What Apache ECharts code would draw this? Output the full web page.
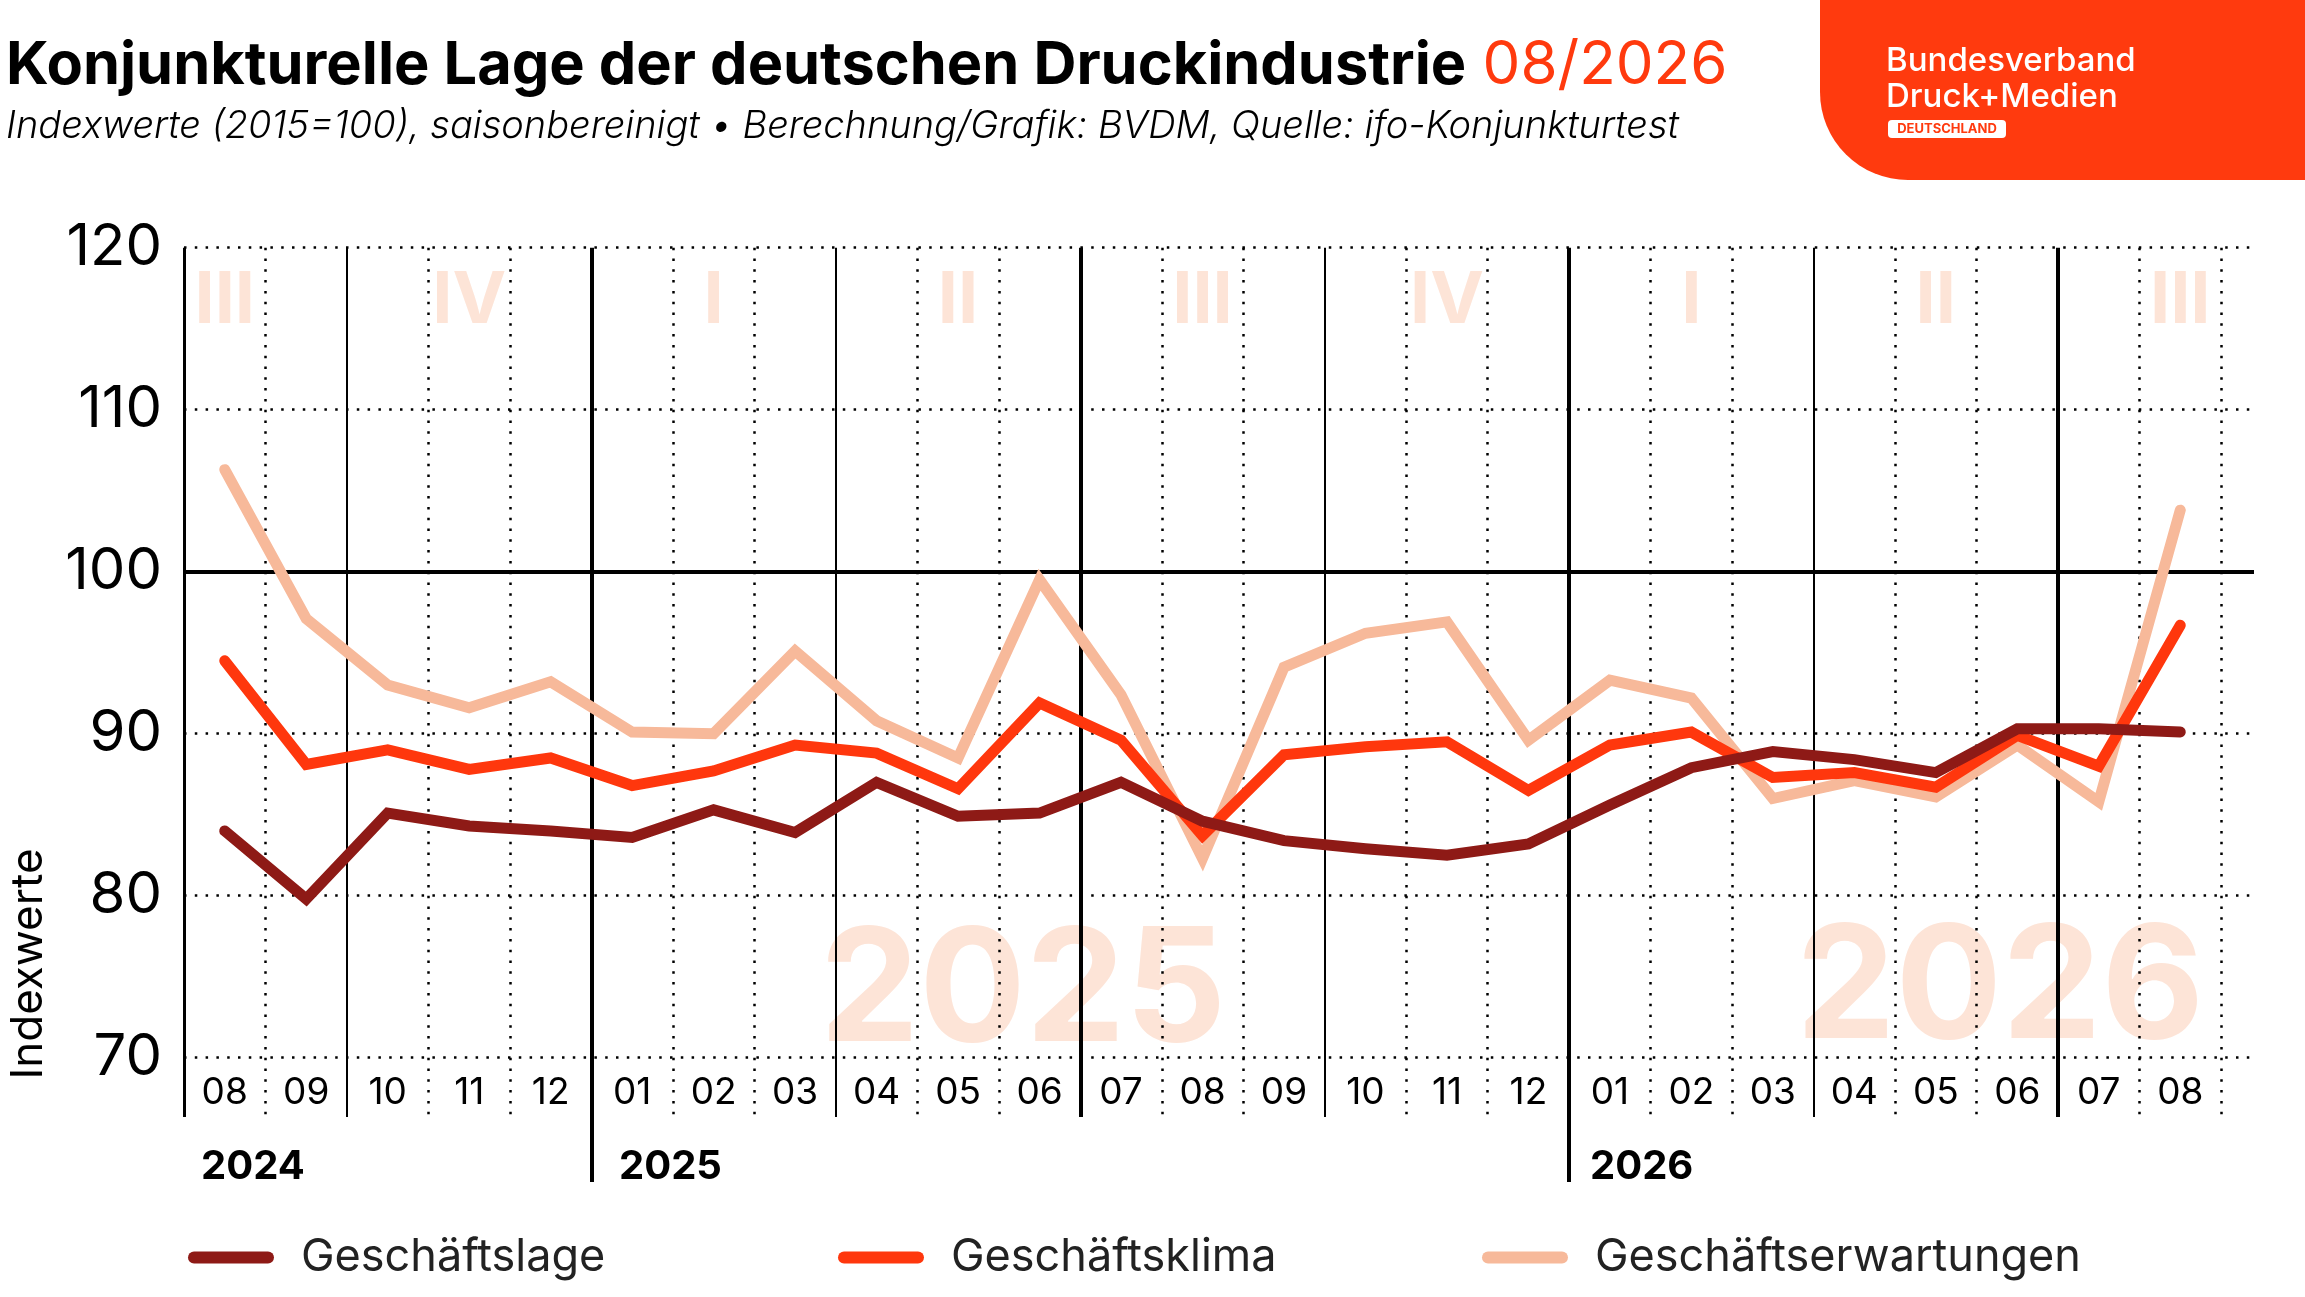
<!DOCTYPE html>
<html>
<head>
<meta charset="utf-8">
<script src="https://cdn.jsdelivr.net/npm/echarts@6/dist/echarts.min.js"></script>
<style>
html, body { margin: 0; padding: 0; background: #fff; }
#chart { width: 2305px; height: 1297px; }
</style>
</head>
<body>
<div id="chart"></div>
<script>
// Monate 08/2024 - 08/2026
var months = ['08','09','10','11','12','01','02','03','04','05','06','07','08','09','10','11','12','01','02','03','04','05','06','07','08'];
var lage        = [84.0, 79.8, 85.1, 84.3, 84.0, 83.6, 85.3, 83.9, 87.0, 84.9, 85.1, 87.0, 84.6, 83.4, 82.9, 82.5, 83.2, 85.6, 87.9, 88.9, 88.4, 87.6, 90.3, 90.3, 90.1];
var klima       = [94.5, 88.1, 89.0, 87.8, 88.5, 86.8, 87.7, 89.3, 88.8, 86.6, 91.9, 89.6, 83.7, 88.7, 89.2, 89.5, 86.5, 89.3, 90.1, 87.3, 87.6, 86.7, 89.9, 88.0, 96.7];
var erwartungen = [106.3, 97.1, 93.0, 91.6, 93.2, 90.1, 90.0, 95.1, 90.8, 88.5, 99.5, 92.4, 82.3, 94.1, 96.2, 96.9, 89.6, 93.3, 92.2, 86.0, 87.1, 86.1, 89.3, 85.8, 103.8];
var yTicks = [70, 80, 90, 100, 110, 120];
var quarterLabels = ['III','IV','I','II','III','IV','I','II','III'];
var quarterMid = [0, 3, 6, 9, 12, 15, 18, 21, 24];
var yearLabels = ['2024', '2025', '2026'];

var FONT = 'Inter';
var GRID_RIGHT_PX = 2254;   // horizontale Linien laufen etwas weiter
var AXIS_BOTTOM_PX = 1117;  // Ende der senkrechten Linien
var YEAR_BOTTOM_PX = 1182;  // Ende der Jahreslinien
var dotted = [2.5, 8.3];

function pairs(arr) {
    return arr.map(function (v, i) { return [i, v]; });
}

// horizontale Linien
var gridLines = yTicks.map(function (v) {
    var style = v === 100
        ? { color: '#000', width: 4, type: 'solid' }
        : { color: '#000', width: 2.5, type: dotted };
    return [{ xAxis: -0.5, yAxis: v, lineStyle: style }, { x: GRID_RIGHT_PX, yAxis: v }];
});

// senkrechte Linien an den Monatsgrenzen
gridLines.push([{ xAxis: -0.5, yAxis: 120, lineStyle: { color: '#000', width: 3, type: 'solid' } },
                { xAxis: -0.5, y: AXIS_BOTTOM_PX }]);
for (var k = 0; k < months.length; k++) {
    var next = k + 1 < months.length ? +months[k + 1] : (+months[k] % 12) + 1;
    var style, bottom = AXIS_BOTTOM_PX;
    if (next === 1) {
        style = { color: '#000', width: 4, type: 'solid' };
        bottom = YEAR_BOTTOM_PX;
    } else if (next === 7) {
        style = { color: '#000', width: 4, type: 'solid' };
    } else if (next === 4 || next === 10) {
        style = { color: '#000', width: 2, type: 'solid' };
    } else {
        style = { color: '#000', width: 2.5, type: dotted };
    }
    gridLines.push([{ xAxis: k + 0.5, yAxis: 120, lineStyle: style }, { xAxis: k + 0.5, y: bottom }]);
}

var quarterPoints = quarterLabels.map(function (q, i) {
    return { name: q, coord: [quarterMid[i], 116.7] };
});

var chart = echarts.init(document.getElementById('chart'));

var option = {
    backgroundColor: '#fff',
    animation: false,
    textStyle: { fontFamily: FONT },
    grid: {
        left: 184, right: 84, top: 247.7, bottom: 239.3,
        containLabel: false, outerBoundsMode: 'none'
    },
    xAxis: {
        type: 'value',
        min: -0.5, max: 24.5, interval: 0.5,
        axisLine: { show: false },
        axisTick: { show: false },
        splitLine: { show: false },
        axisLabel: {
            margin: 17,
            fontFamily: FONT, fontSize: 37, color: '#000',
            formatter: function (v) {
                return Number.isInteger(v) ? months[v] : '';
            }
        }
    },
    yAxis: {
        type: 'value',
        min: 70, max: 120, interval: 10,
        axisLine: { show: false },
        axisTick: { show: false },
        splitLine: { show: false },
        axisLabel: { margin: 22, fontFamily: FONT, fontSize: 58, color: '#000' }
    },
    legend: [
        { data: ['Geschäftslage'], left: 183 },
        { data: ['Geschäftsklima'], left: 833 },
        { data: ['Geschäftserwartungen'], left: 1477 }
    ].map(function (l) {
        l.top = 1230;
        l.itemWidth = 86;
        l.itemHeight = 12;
        l.icon = 'path://M6 0H80A6 6 0 0 1 80 12H6A6 6 0 0 1 6 0Z';
        l.textStyle = { fontFamily: FONT, fontSize: 45, color: '#222', padding: [0, 0, 0, 22] };
        l.selectedMode = false;
        return l;
    }),
    graphic: [
        {
            type: 'text', x: 6, y: 66,
            style: {
                text: '{a|Konjunkturelle Lage der deutschen Druckindustrie} {b|08/2026}',
                textVerticalAlign: 'middle',
                rich: {
                    a: { fontFamily: FONT, fontSize: 59.5, fontWeight: 'bold', fill: '#000' },
                    b: { fontFamily: FONT, fontSize: 60, fontWeight: 'normal', fill: '#FF3A0E' }
                },
                font: '58px ' + FONT
            }
        },
        {
            type: 'text', x: 6, y: 127,
            style: {
                text: 'Indexwerte (2015=100), saisonbereinigt • Berechnung/Grafik: BVDM, Quelle: ifo-Konjunkturtest',
                font: 'italic 300 38px ' + FONT, fill: '#000', textVerticalAlign: 'middle'
            }
        },
        {
            type: 'rect',
            shape: { x: 1820, y: 0, width: 485, height: 180, r: [0, 0, 0, 88] },
            style: { fill: '#FF3A0E' }
        },
        {
            type: 'text', x: 1886, y: 61,
            style: { text: 'Bundesverband', font: '500 33px ' + FONT, fill: '#fff', textVerticalAlign: 'middle' }
        },
        {
            type: 'text', x: 1886, y: 97,
            style: { text: 'Druck+Medien', font: '500 33px ' + FONT, fill: '#fff', textVerticalAlign: 'middle' }
        },
        {
            type: 'rect',
            shape: { x: 1888, y: 120, width: 118, height: 18, r: 4 },
            style: { fill: '#fff' }
        },
        {
            type: 'text', x: 1947, y: 129.5,
            style: { text: 'DEUTSCHLAND', font: 'bold 13px ' + FONT, fill: '#FF3A0E', textAlign: 'center', textVerticalAlign: 'middle' }
        },
        {
            type: 'text', x: 29, y: 964, rotation: Math.PI / 2,
            style: { text: 'Indexwerte', font: '44px ' + FONT, fill: '#000', textAlign: 'center', textVerticalAlign: 'middle' }
        },
        {
            type: 'text', x: 201, y: 1167,
            style: { text: yearLabels[0], font: 'bold 40px ' + FONT, fill: '#000', textVerticalAlign: 'middle' }
        },
        {
            type: 'text', x: 619, y: 1167,
            style: { text: yearLabels[1], font: 'bold 40px ' + FONT, fill: '#000', textVerticalAlign: 'middle' }
        },
        {
            type: 'text', x: 1590, y: 1167,
            style: { text: yearLabels[2], font: 'bold 40px ' + FONT, fill: '#000', textVerticalAlign: 'middle' }
        },
        {
            type: 'text', x: 1023, y: 993, z: 0,
            style: { text: '2025', font: 'bold 158px ' + FONT, fill: '#FDE4D7', textAlign: 'center', textVerticalAlign: 'middle' }
        },
        {
            type: 'text', x: 2000, y: 990, z: 0,
            style: { text: '2026', font: 'bold 158px ' + FONT, fill: '#FDE4D7', textAlign: 'center', textVerticalAlign: 'middle' }
        }
    ],
    series: [
        {
            type: 'line',
            name: 'helper',
            data: [],
            clip: false,
            silent: true,
            markLine: {
                z: 2,
                silent: true,
                symbol: ['none', 'none'],
                label: { show: false },
                emphasis: { disabled: true },
                data: gridLines
            },
            markPoint: {
                z: 1,
                silent: true,
                symbol: 'circle',
                symbolSize: 1,
                itemStyle: { color: 'rgba(0,0,0,0)' },
                label: {
                    show: true, position: 'inside', formatter: '{b}',
                    fontFamily: FONT, fontSize: 72, fontWeight: 'bold', color: '#FDE4D7'
                },
                data: quarterPoints
            }
        },
        {
            type: 'line', name: 'Geschäftserwartungen', z: 10,
            data: pairs(erwartungen), symbol: 'none', silent: true,
            itemStyle: { color: '#F7B99A' },
            lineStyle: { color: '#F7B99A', width: 11, cap: 'round', join: 'miter' }
        },
        {
            type: 'line', name: 'Geschäftsklima', z: 11,
            data: pairs(klima), symbol: 'none', silent: true,
            itemStyle: { color: '#FF370D' },
            lineStyle: { color: '#FF370D', width: 11, cap: 'round', join: 'miter' }
        },
        {
            type: 'line', name: 'Geschäftslage', z: 12,
            data: pairs(lage), symbol: 'none', silent: true,
            itemStyle: { color: '#8E1A16' },
            lineStyle: { color: '#8E1A16', width: 11, cap: 'round', join: 'miter' }
        }
    ]
};

chart.setOption(option);
</script>
</body>
</html>
